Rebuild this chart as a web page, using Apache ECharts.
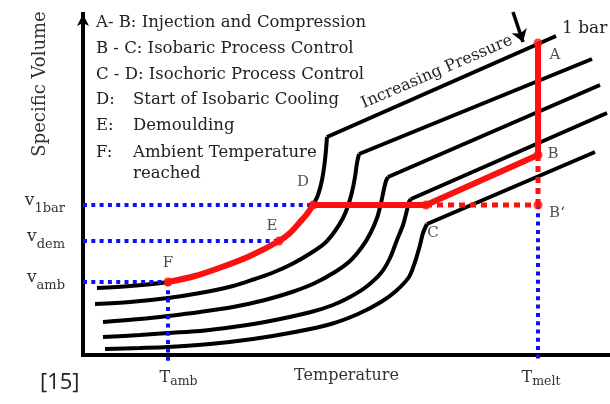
<!DOCTYPE html>
<html><head><meta charset="utf-8">
<script src="https://cdn.jsdelivr.net/npm/echarts@6/dist/echarts.min.js"></script>
<style>html,body{margin:0;padding:0;background:#fff}#c{width:610px;height:404px}</style>
</head><body><div id="c"></div>
<script>
// ---- data (arbitrary units: T = temperature, v = specific volume) ----
const isobar1Solid = [[14,67],[47,69],[85,73],[112,79],[139,88],[167,99],[196,114],[207,122],[217,133],[224,141],[230,150],[235,160],[239,175],[242,195],[244,218]];
const isobar1Melt  = [[244,218],[473,319]];
const isobar2Solid = [[12,51],[47,53],[85,57],[117,62],[150,69],[172,76],[189,82],[209,91],[228,102],[242,112],[252,124],[260,137],[265,149],[269,163],[272,178],[274,192],[276,201]];
const isobar2Melt  = [[276,201],[509,296]];
const isobar3Solid = [[20,33],[57,36],[85,39],[117,43],[150,48],[182,55],[209,63],[232,72],[252,83],[267,94],[279,108],[287,121],[294,137],[298,152],[301,166],[303,174],[305,178]];
const isobar3Melt  = [[305,178],[517,270]];
const isobar4Solid = [[20,18],[57,20],[85,22],[117,24],[150,28],[187,34],[228,43],[250,50],[267,58],[283,68],[298,82],[307,97],[314,115],[320,130],[324,145],[326,153],[328,156]];
const isobar4Melt  = [[328,156],[524,242]];
const isobar5Solid = [[22,6],[57,7],[85,8],[127,11],[170,16],[212,23],[248,31],[275,41],[298,53],[313,64],[326,78],[332,93],[337,110],[340,122],[344,131]];
const isobar5Melt  = [[344,131],[512,203]];

const pathCooling = [[85,73],[112,79],[139,88],[167,99],[196,114],[207,122],[217,133],[224,141],[230,150]]; // F -> E -> D
const pathProcess = [[230,150],[343,150],[455,200],[455,312]];           // D -> C -> B -> A
const pathCtoB2   = [[343,150],[455,150]];                               // C -> B'
const pathBtoB2   = [[455,200],[455,150]];                               // B -> B'
const keyPoints   = [[455,312],[455,200],[455,150],[343,150],[230,150],[196,114],[85,73]];
const pointNames  = ['A','B','B‘','C','D','E','F'];
const labelAnchors = [[472,300],[470,201],[474,142],[350,122],[220,173],[189,129],[85,92]];

const vRefLines = [[[0,150],[230,150]], [[0,114],[196,114]], [[0,73],[85,73]]];
const tRefLines = [[[85,73],[85,-7]], [[455,150],[455,-7]]];
const pressureArrow = [[430,343],[440,313]];

const yTickValues = [150,114,73];
const yTickSubs   = ['1bar','dem','amb'];
const xTickValues = [85,455];
const xTickSubs   = ['amb','melt'];

const legendKeys  = ['A- B:','B - C:','C - D:','D:','E:','F:'];
const legendTexts = ['Injection and Compression','Isobaric Process Control','Isochoric Process Control',
                     'Start of Isobaric Cooling','Demoulding','Ambient Temperature\nreached'];

// ---- chart ----
const SERIF = '"DejaVu Serif", serif';
const TXT = '#222';
const RED = '#ff1010';
const BLUE = '#1010ee';

const chart = echarts.init(document.getElementById('c'), null, {renderer:'canvas'});

const series = [];
[[isobar1Solid,isobar1Melt],[isobar2Solid,isobar2Melt],[isobar3Solid,isobar3Melt],
 [isobar4Solid,isobar4Melt],[isobar5Solid,isobar5Melt]].forEach(([s,m]) => {
  series.push({type:'line', data:s, smooth:0.3, showSymbol:false, clip:false,
    lineStyle:{color:'#000', width:4}, z:2});
  series.push({type:'line', data:m, showSymbol:false, clip:false,
    lineStyle:{color:'#000', width:4}, z:2});
});
vRefLines.concat(tRefLines).forEach(d => {
  series.push({type:'line', data:d, showSymbol:false, clip:false,
    lineStyle:{color:BLUE, width:4, type:[4,4.3], cap:'butt'}, z:3});
});
[pathCtoB2, pathBtoB2].forEach(d => {
  series.push({type:'line', data:d, showSymbol:false, clip:false,
    lineStyle:{color:RED, width:5, type:[6,5], cap:'butt'}, z:4});
});
series.push({type:'line', data:pathCooling, smooth:0.3, showSymbol:false, clip:false,
  lineStyle:{color:RED, width:6, cap:'round'}, z:5});
series.push({type:'line', data:pathProcess, showSymbol:false, clip:false,
  lineStyle:{color:RED, width:6, join:'round'}, z:5});
series.push({type:'scatter', data:keyPoints, symbolSize:9, clip:false,
  itemStyle:{color:RED}, z:6});
series.push({type:'scatter', data:labelAnchors.map((p,i)=>[p[0],p[1],pointNames[i]]),
  symbolSize:0, clip:false, z:7,
  label:{show:true, position:'inside', formatter:p=>p.data[2],
    fontFamily:SERIF, fontSize:15, color:TXT}});
series.push({type:'lines', coordinateSystem:'cartesian2d', clip:false, z:7,
  data:[{coords:pressureArrow}], symbol:['none','arrow'], symbolSize:12,
  lineStyle:{color:'#000', width:3.5, opacity:1}});

const graphic = [];
const legendY = [23,49,75,100,126,153];
legendKeys.forEach((k,i) => {
  if (i < 3) {
    graphic.push({type:'text', x:96, y:legendY[i], style:{text:k+' '+legendTexts[i],
      fontFamily:SERIF, fontSize:16.5, fill:TXT, textVerticalAlign:'middle'}});
  } else {
    graphic.push({type:'text', x:96, y:legendY[i], style:{text:k,
      fontFamily:SERIF, fontSize:16.5, fill:TXT, textVerticalAlign:'middle'}});
    graphic.push({type:'text', x:133, y:legendY[i]-10.5, style:{text:legendTexts[i],
      fontFamily:SERIF, fontSize:16.5, fill:TXT, textVerticalAlign:'top', lineHeight:21}});
  }
});
graphic.push({type:'text', x:40, y:84, rotation:Math.PI/2, style:{text:'Specific Volume',
  fontFamily:SERIF, fontSize:18, fill:'#333', textAlign:'center', textVerticalAlign:'middle'}});
graphic.push({type:'text', x:437, y:72, rotation:0.407, style:{text:'Increasing Pressure',
  fontFamily:SERIF, fontSize:16, fill:TXT, textAlign:'center', textVerticalAlign:'middle'}});
graphic.push({type:'text', x:562, y:29, style:{text:'1 bar',
  fontFamily:SERIF, fontSize:17, fill:TXT, textVerticalAlign:'middle'}});
graphic.push({type:'text', x:40, y:383, style:{text:'[15]',
  fontFamily:'"Open Sans", sans-serif', fontSize:22, fill:TXT, textVerticalAlign:'middle'}});

const xPad = [21, 6];
chart.setOption({
  animation:false,
  grid:{left:83, right:0, top:14, bottom:49, containLabel:false, outerBoundsMode:'none'},
  xAxis:{type:'value', min:0, max:527,
    axisLine:{show:true, onZero:false, lineStyle:{color:'#000', width:4, cap:'square'}},
    axisTick:{show:false}, splitLine:{show:false},
    axisLabel:{customValues:xTickValues, margin:12,
      formatter:(v)=>{const i=xTickValues.indexOf(v); return (i===0?'{p|}':'{q|}')+'{t|T}{s|'+xTickSubs[i]+'}';},
      rich:{p:{width:xPad[0]}, q:{width:xPad[1]},
        t:{fontFamily:SERIF, fontSize:16, color:'#333'},
        s:{fontFamily:SERIF, fontSize:12.5, color:'#333', padding:[8,0,0,0]}}},
    name:'Temperature', nameLocation:'middle', nameGap:13, nameMoveOverlap:false,
    nameTextStyle:{fontFamily:SERIF, fontSize:16, color:'#333'}},
  yAxis:{type:'value', min:0, max:341,
    axisLine:{show:true, onZero:false, symbol:['none','arrow'], symbolSize:[9,12],
      lineStyle:{color:'#000', width:4, cap:'square'}},
    axisTick:{show:false}, splitLine:{show:false},
    axisLabel:{customValues:yTickValues, margin:18,
      formatter:(v)=>'{v|v}{s|'+yTickSubs[yTickValues.indexOf(v)]+'}',
      rich:{v:{fontFamily:SERIF, fontSize:17, color:'#333', padding:[0,0,9,0]},
        s:{fontFamily:SERIF, fontSize:13, color:'#333', padding:[7,0,0,0]}}}},
  graphic:graphic,
  series:series
});
</script></body></html>
